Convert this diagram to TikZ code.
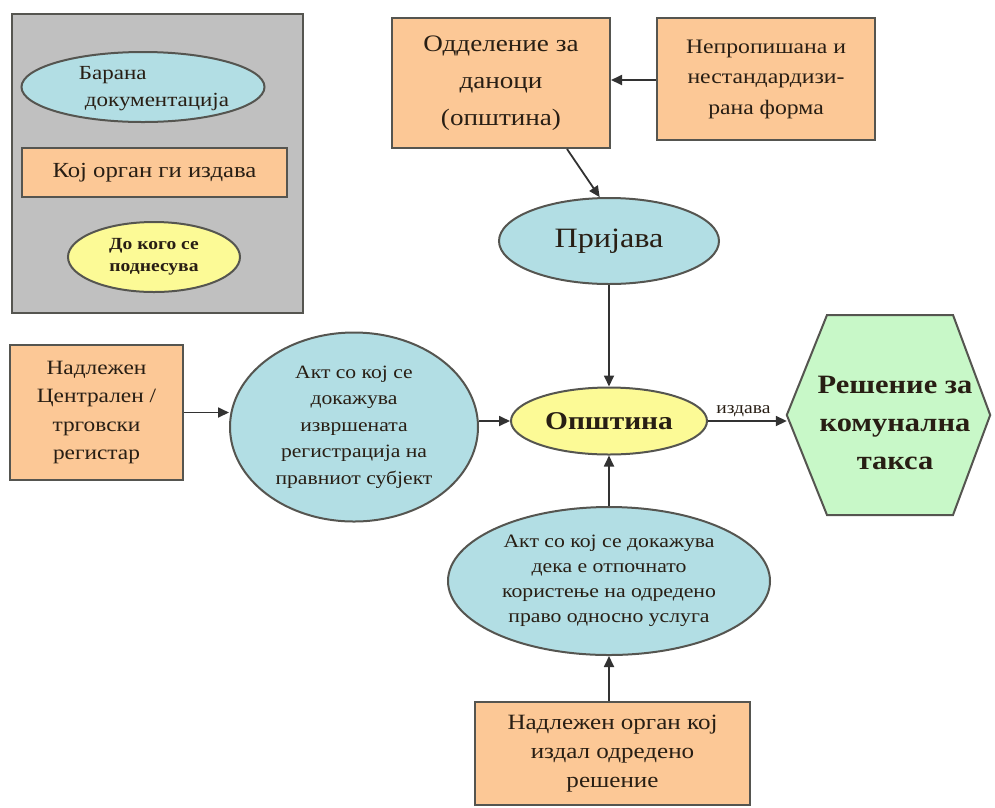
\documentclass[tikz,border=0pt]{standalone}
\usepackage{fontspec}
\setmainfont[FakeStretch=1.15]{Liberation Serif}
\usetikzlibrary{shapes.geometric,arrows.meta}
\definecolor{orangebox}{RGB}{252,200,150}
\definecolor{cyanell}{RGB}{178,222,228}
\definecolor{yellowell}{RGB}{252,250,150}
\definecolor{greenhex}{RGB}{200,248,200}
\definecolor{legendgray}{RGB}{192,192,192}
\definecolor{edge}{RGB}{85,85,80}
\definecolor{arrowcol}{RGB}{50,50,50}
\definecolor{txt}{RGB}{40,30,20}
\tikzset{
  orangerect/.style={draw=edge, line width=2pt, fill=orangebox, align=center, inner sep=0pt, text=txt},
  cyanellipse/.style={ellipse, draw=edge, line width=2pt, fill=cyanell, align=center, inner sep=0pt, text=txt},
  yellowellipse/.style={ellipse, draw=edge, line width=2pt, fill=yellowell, align=center, inner sep=0pt, text=txt},
  conn/.style={draw=arrowcol, line width=1.8pt, -{Triangle[length=11pt,width=10pt]}},
}
\begin{document}
\begin{tikzpicture}[x=1pt,y=-1pt]
\useasboundingbox (0,0) rectangle (995,807);
% legend
\node[draw=edge, line width=2.5pt, fill=legendgray, minimum width=291pt, minimum height=299pt, inner sep=0pt] (legend) at (157.5,163.5) {};
\node[cyanellipse, minimum width=243pt, minimum height=70pt] (legA) at (143,87) {};
\node[align=left, text=txt, inner sep=0pt, font={\fontsize{20}{27}\selectfont}] (legAtext) at (154,89)
  {Барана\\\hspace*{6pt}документација};
\node[orangerect, minimum width=265pt, minimum height=49pt, font={\fontsize{21.5}{24}\selectfont}] (legB) at (154.5,172.5)
  {Кој орган ги издава};
\node[yellowellipse, minimum width=172pt, minimum height=70pt, font={\fontsize{17}{22}\selectfont\bfseries}] (legC) at (154,257)
  {До кого се\\поднесува};
% top boxes
\node[orangerect, minimum width=218pt, minimum height=130pt, font={\fontsize{23.6}{37}\selectfont}] (odd) at (501,83)
  {Одделение за\\даноци\\(општина)};
\node[orangerect, minimum width=218pt, minimum height=122pt, font={\fontsize{20.6}{30.5}\selectfont}] (nep) at (766,79)
  {Непропишана и\\нестандардизи-\\рана форма};
\node[cyanellipse, minimum width=220pt, minimum height=86pt, font={\fontsize{28}{32}\selectfont}] (prij) at (609,241)
  {Пријава};
% middle row
\node[orangerect, minimum width=173pt, minimum height=135pt, font={\fontsize{20.3}{28.3}\selectfont}] (centr) at (96.5,412.5)
  {Надлежен\\Централен /\\трговски\\регистар};
\node[cyanellipse, minimum width=248pt, minimum height=189pt, font={\fontsize{18.8}{26.5}\selectfont}] (akt1) at (354,427)
  {Акт со кој се\\докажува\\извршената\\регистрација на\\правниот субјект};
\node[yellowellipse, minimum width=196pt, minimum height=67pt, font={\fontsize{25.6}{30}\selectfont\bfseries}] (opst) at (609,421)
  {Општина};
% hexagon
\node[minimum width=203pt, minimum height=200pt, inner sep=0pt] (hex) at (888.5,415) {};
\draw[draw=edge, line width=2pt, fill=greenhex]
  (hex.west) -- (827,315) -- (953,315) -- (hex.east) -- (953,515) -- (827,515) -- cycle;
\node[align=center, text=txt, inner sep=0pt, font={\fontsize{26.5}{38}\selectfont\bfseries}] (hextext) at (895,423)
  {Решение за\\комунална\\такса};
% bottom
\node[cyanellipse, minimum width=322pt, minimum height=148pt, font={\fontsize{18.9}{25}\selectfont}] (akt2) at (609,581)
  {Акт со кој се докажува\\дека е отпочнато\\користење на одредено\\право односно услуга};
\node[orangerect, minimum width=275pt, minimum height=103pt, font={\fontsize{21.8}{29}\selectfont}] (nadl) at (612.5,753.5)
  {Надлежен орган кој\\издал одредено\\решение};
% connectors
\draw[conn] (nep.west |- odd.east) ++(0,-3) coordinate (nepin) -- (odd.east |- nepin);
\draw[conn] (odd.-45) -- (prij.102);
\draw[conn] (prij) -- (opst);
\draw[conn] (centr) -- (akt1.west |- centr.east);
\draw[conn] (akt1.east |- opst.west) -- (opst.west);
\draw[conn] (opst.east) -- node[above, text=txt, font={\fontsize{17}{18}\selectfont}, inner sep=3pt, pos=0.45] {издава} (hex.west |- opst.east);
\draw[conn] (akt2) -- (opst);
\draw[conn] (nadl.north -| akt2.south) -- (akt2.south);
\end{tikzpicture}
\end{document}
